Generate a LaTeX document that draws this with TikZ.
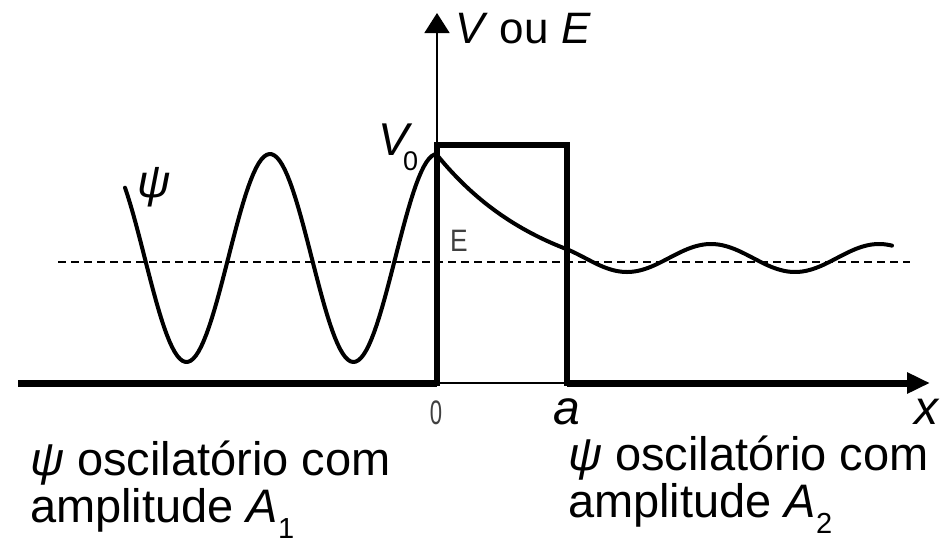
\documentclass[tikz,border=0pt]{standalone}
\usepackage{fontspec}
\setmainfont{Liberation Sans}
\usetikzlibrary{arrows.meta}
\newcommand{\fsz}[1]{\fontsize{#1}{#1}\selectfont}
\tikzset{
  thickaxis/.style={line width=7pt, line cap=butt},
  thinaxis/.style={line width=1.8pt},
  barrier/.style={line width=6pt, line join=miter, line cap=butt},
  wave/.style={line width=4pt, line join=round, line cap=round},
  energy/.style={line width=1.5pt, dash pattern=on 8pt off 5pt},
  lbl/.style={inner sep=0pt, outer sep=0pt},
  thinlbl/.style={inner sep=0pt, text=black!75}
}
\begin{document}
\begin{tikzpicture}[x=1pt,y=-1pt]
\useasboundingbox (0,0) rectangle (947,542);
% energy level
\draw[energy] (58,262) -- (910,262);
% axes
\draw[thickaxis] (18,383) -- (437,383);
\draw[thinaxis] (437,383) -- (567,383);
\draw[thickaxis,-{Triangle[length=23pt,width=20pt]}] (567,383) -- (930,383);
\draw[thinaxis,-{Triangle[length=20pt,width=25pt]}] (437,383) -- (437,13);
% barrier
\draw[barrier] (437,386) -- (437,145) -- (567,145) -- (567,386);
% wave function
\draw[wave] plot[domain=125:437, samples=120] (\x, {258-104*cos(2.15569*(\x-437))})
  -- plot[domain=437:567, samples=60] (\x, {291.7-136.7*exp(-0.009*(\x-437))})
  -- plot[domain=567:892, samples=120] (\x, {258+14*cos(2.14286*(\x-627))});
% labels
\node[lbl, anchor=base west] (VE) at (455,43) {\fsz{44}\textit{V} ou \textit{E}};
\node[lbl, anchor=base west] (V0) at (378,155) {\fsz{46}\textit{V}};
\node[lbl, anchor=base west] (V0s) at (403,170) {\fsz{27}0};
\node[lbl, anchor=base west] (psi) at (137,197) {\fsz{46}\textit{ψ}};
\node[thinlbl, xscale=0.85] (E) at (459,241) {\fsz{31}E};
\node[thinlbl, xscale=0.65] (zero) at (436,413) {\fsz{34}0};
\node[lbl, anchor=base] (a) at (567,424) {\fsz{48}\textit{a}};
\node[lbl, anchor=base] (x) at (927,424) {\fsz{48}\textit{x}};
\node[lbl, anchor=base west] (L1) at (30,475) {\fsz{47}\textit{ψ} oscilatório com};
\node[lbl, anchor=base west] (L2) at (30,522) {\fsz{47}amplitude \textit{A}\raisebox{-16pt}{\fsz{29}1}};
\node[lbl, anchor=base west] (R1) at (568,470) {\fsz{47}\textit{ψ} oscilatório com};
\node[lbl, anchor=base west] (R2) at (568,517) {\fsz{47}amplitude \textit{A}\raisebox{-16pt}{\fsz{29}2}};
\end{tikzpicture}
\end{document}
